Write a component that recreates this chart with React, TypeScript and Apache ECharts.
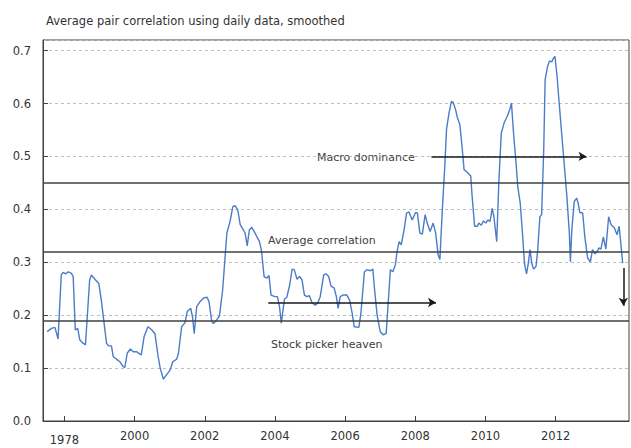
import React, { useEffect, useRef } from "react";
import * as echarts from "echarts";

const dates = [
  1997.51, 1997.63, 1997.73, 1997.82, 1997.91, 1997.96, 1998.04, 1998.11, 1998.2, 1998.25,
  1998.31, 1998.38, 1998.44, 1998.53, 1998.6, 1998.72, 1998.77, 1998.87, 1998.98, 1999.05,
  1999.12, 1999.2, 1999.26, 1999.34, 1999.39, 1999.48, 1999.58, 1999.67, 1999.72, 1999.79,
  1999.88, 1999.96, 2000.05, 2000.19, 2000.27, 2000.38, 2000.48, 2000.58, 2000.67, 2000.73,
  2000.82, 2000.92, 2001.01, 2001.09, 2001.2, 2001.25, 2001.34, 2001.44, 2001.5, 2001.6,
  2001.65, 2001.7, 2001.77, 2001.87, 2001.96, 2002.06, 2002.12, 2002.2, 2002.25, 2002.34,
  2002.42, 2002.51, 2002.58, 2002.63, 2002.72, 2002.8, 2002.86, 2002.94, 2003.01, 2003.1,
  2003.15, 2003.21, 2003.27, 2003.34, 2003.41, 2003.48, 2003.56, 2003.62, 2003.69, 2003.77,
  2003.83, 2003.89, 2004.0, 2004.07, 2004.13, 2004.18, 2004.27, 2004.34, 2004.42, 2004.49,
  2004.55, 2004.63, 2004.7, 2004.77, 2004.84, 2004.91, 2004.98, 2005.06, 2005.15, 2005.22,
  2005.29, 2005.39, 2005.46, 2005.53, 2005.6, 2005.69, 2005.75, 2005.8, 2005.86, 2005.94,
  2006.05, 2006.13, 2006.2, 2006.26, 2006.39, 2006.45, 2006.55, 2006.62, 2006.72, 2006.79,
  2006.84, 2006.91, 2007.0, 2007.08, 2007.17, 2007.22, 2007.29, 2007.36, 2007.43, 2007.48,
  2007.54, 2007.6, 2007.68, 2007.75, 2007.82, 2007.91, 2008.01, 2008.06, 2008.13, 2008.2,
  2008.28, 2008.34, 2008.42, 2008.51, 2008.58, 2008.65, 2008.7, 2008.77, 2008.84, 2008.89,
  2008.96, 2009.03, 2009.08, 2009.15, 2009.2, 2009.27, 2009.34, 2009.39, 2009.48, 2009.58,
  2009.62, 2009.69, 2009.77, 2009.81, 2009.88, 2009.94, 2010.01, 2010.07, 2010.13, 2010.19,
  2010.24, 2010.32, 2010.38, 2010.45, 2010.53, 2010.62, 2010.69, 2010.74, 2010.8, 2010.87,
  2010.92, 2010.99, 2011.06, 2011.11, 2011.17, 2011.22, 2011.27, 2011.32, 2011.37, 2011.44,
  2011.49, 2011.55, 2011.6, 2011.66, 2011.7, 2011.77, 2011.82, 2011.89, 2011.94, 2011.98,
  2012.04, 2012.1, 2012.17, 2012.25, 2012.32, 2012.39, 2012.42, 2012.46, 2012.53, 2012.6,
  2012.64, 2012.69, 2012.77, 2012.83, 2012.91, 2012.99, 2013.05, 2013.12, 2013.18, 2013.23,
  2013.29, 2013.36, 2013.43, 2013.51, 2013.58, 2013.67, 2013.75, 2013.81, 2013.91,
];

const correlation = [
  0.169, 0.175, 0.177, 0.155, 0.276, 0.281, 0.278, 0.282, 0.279, 0.273,
  0.172, 0.175, 0.153, 0.147, 0.144, 0.267, 0.276, 0.268, 0.26, 0.229,
  0.191, 0.147, 0.142, 0.142, 0.122, 0.117, 0.112, 0.103, 0.101, 0.128,
  0.136, 0.131, 0.131, 0.125, 0.159, 0.178, 0.173, 0.165, 0.122, 0.1,
  0.079, 0.088, 0.096, 0.112, 0.117, 0.128, 0.178, 0.186, 0.207, 0.213,
  0.197, 0.165, 0.216, 0.226, 0.232, 0.234, 0.226, 0.188, 0.184, 0.191,
  0.199, 0.248, 0.311, 0.355, 0.377, 0.405, 0.407, 0.399, 0.371, 0.361,
  0.355, 0.331, 0.361, 0.366, 0.358, 0.349, 0.339, 0.32, 0.273, 0.27,
  0.275, 0.238, 0.235, 0.235, 0.216, 0.185, 0.23, 0.234, 0.257, 0.287,
  0.286, 0.268, 0.273, 0.267, 0.238, 0.235, 0.237, 0.223, 0.219, 0.223,
  0.235, 0.276, 0.278, 0.273, 0.255, 0.251, 0.235, 0.213, 0.235, 0.238,
  0.238, 0.228, 0.204, 0.178, 0.177, 0.204, 0.282, 0.286, 0.284, 0.287,
  0.248, 0.201, 0.169, 0.163, 0.165, 0.216, 0.286, 0.282, 0.295, 0.32,
  0.339, 0.333, 0.361, 0.393, 0.395, 0.38, 0.394, 0.393, 0.355, 0.353,
  0.39, 0.374, 0.358, 0.374, 0.355, 0.314, 0.305, 0.399, 0.481, 0.551,
  0.582, 0.604, 0.602, 0.588, 0.573, 0.56, 0.513, 0.475, 0.47, 0.463,
  0.424, 0.368, 0.368, 0.374, 0.37, 0.378, 0.374, 0.38, 0.377, 0.402,
  0.386, 0.339, 0.45, 0.544, 0.563, 0.576, 0.588, 0.601, 0.544, 0.488,
  0.443, 0.412, 0.349, 0.298, 0.278, 0.298, 0.324, 0.298, 0.287, 0.292,
  0.324, 0.386, 0.39, 0.513, 0.645, 0.67, 0.68, 0.679, 0.686, 0.689,
  0.651, 0.601, 0.544, 0.481, 0.424, 0.355, 0.301, 0.361, 0.415, 0.421,
  0.412, 0.394, 0.393, 0.349, 0.308, 0.301, 0.324, 0.316, 0.32, 0.327,
  0.325, 0.348, 0.325, 0.386, 0.371, 0.365, 0.352, 0.368, 0.298,
];

const tickYears = [1998, 2000, 2002, 2004, 2006, 2008, 2010, 2012];
const tickLabels = ["1978", "2000", "2002", "2004", "2006", "2008", "2010", "2012"];

// Regime levels: macro dominance, average correlation, stock picker heaven
const levels = [0.45, 0.32, 0.19];

// Arrows: [x1, y1, x2, y2]
const arrows = [
  [2008.46, 0.5, 2012.88, 0.5],
  [2003.81, 0.224, 2008.59, 0.224],
  [2013.93, 0.289, 2013.93, 0.2176],
];

const annotations = ["Macro dominance", "Average correlation", "Stock picker heaven"];

const FONT = "DejaVu Sans";
const TEXT = "#333333";
const DARK = "#404040";

export default function App() {
  const ref = useRef<HTMLDivElement>(null);

  useEffect(() => {
    if (!ref.current) return;
    const chart = echarts.init(ref.current, null, { renderer: "svg" });

    const lineData = dates.map((d, i) => [d, correlation[i]]);

    const markData: any[] = [
      ...levels.map((v) => ({
        yAxis: v,
        lineStyle: { color: DARK, width: 1.5, type: "solid" },
        symbol: "none",
      })),
      ...arrows.map((a) => [
        { coord: [a[0], a[1]], symbol: "none", lineStyle: { color: "#1a1a1a", width: 1.5, type: "solid" } },
        { coord: [a[2], a[3]], symbol: "arrow", symbolSize: [7, 8] },
      ]),
    ];

    const option: any = {
      animation: false,
      backgroundColor: "#ffffff",
      title: {
        text: "Average pair correlation using daily data, smoothed",
        left: 41,
        top: 10,
        textStyle: { fontFamily: FONT, fontSize: 11.5, fontWeight: "normal", color: TEXT },
      },
      grid: {
        left: 43,
        right: 2,
        top: 40,
        bottom: 27,
        show: true,
        borderColor: DARK,
        borderWidth: 1,
        outerBoundsMode: "none",
      },
      xAxis: {
        type: "value",
        min: 1997.39,
        max: 2014.09,
        axisLine: { show: true, lineStyle: { color: DARK, width: 1 } },
        axisTick: {
          show: true,
          inside: true,
          length: 5,
          customValues: tickYears,
          lineStyle: { color: DARK },
        },
        axisLabel: {
          customValues: tickYears,
          margin: 9,
          fontFamily: FONT,
          fontSize: 11.5,
          color: TEXT,
          formatter: (v: number) => {
            const idx = tickYears.indexOf(Math.round(v));
            const s = idx >= 0 ? tickLabels[idx] : String(v);
            return idx === 0 ? "{low|" + s + "}" : s;
          },
          rich: {
            low: { fontFamily: FONT, fontSize: 11.5, color: TEXT, padding: [4, 0, 0, 0] },
          },
        },
        splitLine: { show: false },
      },
      yAxis: {
        type: "value",
        min: 0,
        max: 0.72,
        interval: 0.1,
        axisLine: { show: true, lineStyle: { color: DARK, width: 1 } },
        axisTick: { show: true, inside: true, length: 5, lineStyle: { color: DARK } },
        axisLabel: {
          showMaxLabel: false,
          margin: 12,
          fontFamily: FONT,
          fontSize: 11.5,
          color: TEXT,
          formatter: (v: number) => v.toFixed(1),
        },
        splitLine: { show: true, lineStyle: { color: "#bfbfbf", type: [3, 3], width: 1 } },
      },
      series: [
        {
          type: "line",
          data: lineData,
          showSymbol: false,
          symbol: "none",
          lineStyle: { color: "#4a7cc8", width: 1.4 },
          silent: true,
          markLine: {
            silent: true,
            symbol: ["none", "none"],
            label: { show: false },
            emphasis: { disabled: true },
            data: markData,
          },
        },
      ],
      graphic: [
        {
          type: "text",
          x: 317,
          y: 157,
          style: { text: annotations[0], fill: DARK, fontFamily: FONT, fontSize: 11, verticalAlign: "middle" },
        },
        {
          type: "text",
          x: 268,
          y: 240,
          style: { text: annotations[1], fill: DARK, fontFamily: FONT, fontSize: 11, verticalAlign: "middle" },
        },
        {
          type: "text",
          x: 271,
          y: 344,
          style: { text: annotations[2], fill: DARK, fontFamily: FONT, fontSize: 11, verticalAlign: "middle" },
        },
      ],
    };

    chart.setOption(option);
    return () => chart.dispose();
  }, []);

  return (
    <div
      ref={ref}
      style={{ position: "fixed", left: 0, top: 0, width: 631, height: 448, background: "#fff" }}
    />
  );
}
